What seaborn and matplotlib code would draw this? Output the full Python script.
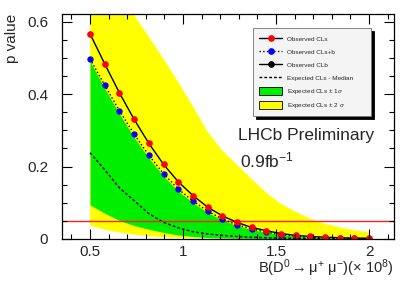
import numpy as np
import matplotlib
matplotlib.use("Agg")
import matplotlib.pyplot as plt
from matplotlib.lines import Line2D
from matplotlib.patches import Patch
from matplotlib.ticker import MultipleLocator, FuncFormatter
import seaborn as sns

# branching fraction scan points (x 10^-8)
br = [0.5, 0.579, 0.658, 0.737, 0.816, 0.895, 0.974, 1.053, 1.132, 1.211,
      1.289, 1.368, 1.447, 1.526, 1.605, 1.684, 1.763, 1.842, 1.921, 2.0]

# observed
cls_obs = [0.566, 0.483, 0.403, 0.330, 0.264, 0.206, 0.158, 0.120, 0.088, 0.064,
           0.046, 0.032, 0.023, 0.015, 0.010, 0.007, 0.005, 0.0035, 0.0025, 0.002]
clsb_obs = [0.497, 0.424, 0.354, 0.289, 0.231, 0.180, 0.138, 0.105, 0.077, 0.055,
            0.039, 0.028, 0.019, 0.012, 0.008, 0.005, 0.003, 0.002, 0.0015, 0.001]

# expected
cls_median = [0.238, 0.191, 0.141, 0.106, 0.070, 0.046, 0.031, 0.020, 0.014, 0.010,
              0.007, 0.005, 0.0035, 0.0025, 0.002, 0.0015, 0.001, 0.001, 0.0008, 0.0005]
band1_lo = [0.094, 0.071, 0.051, 0.037, 0.027, 0.018, 0.011, 0.007, 0.004, 0.003,
            0.002, 0.0015, 0.001, 0.0008, 0.0006, 0.0005, 0.0004, 0.0003, 0.0002, 0.0001]
band1_hi = [0.490, 0.415, 0.345, 0.280, 0.223, 0.173, 0.132, 0.100, 0.073, 0.052,
            0.037, 0.026, 0.018, 0.012, 0.008, 0.005, 0.003, 0.002, 0.0015, 0.001]
band2_lo = [0.037, 0.026, 0.018, 0.012, 0.008, 0.005, 0.003, 0.002, 0.001, 0.0008,
            0.0005, 0.0003, 0.0002, 0.0001, 0.0001, 0.0, 0.0, 0.0, 0.0, 0.0]
band2_hi = [0.79, 0.732, 0.676, 0.618, 0.558, 0.497, 0.433, 0.366, 0.296, 0.244,
            0.205, 0.166, 0.128, 0.097, 0.075, 0.056, 0.042, 0.032, 0.024, 0.019]

limit_cl = 0.05

sns.set_style("ticks")
plt.rcParams['font.family'] = ['Liberation Sans', 'DejaVu Sans']
plt.rcParams['mathtext.fontset'] = 'custom'
plt.rcParams['mathtext.rm'] = 'Liberation Sans'
plt.rcParams['mathtext.it'] = 'Liberation Sans:italic'

fig = plt.figure(figsize=(4.15, 2.81), dpi=100)
ax = fig.add_axes([62/415, 42/281, 332/415, 225/281])
ax.set_axisbelow(False)

ax.fill_between(br, band2_lo, band2_hi, color='#ffff00', lw=0)
ax.fill_between(br, band1_lo, band1_hi, color='#00ee00', lw=0)
sns.lineplot(x=br, y=cls_median, color='black', linestyle=(0, (2, 1.5)), lw=1.0, ax=ax)
ax.axhline(limit_cl, color='#ff2020', lw=1.0)
sns.lineplot(x=br, y=clsb_obs, color='black', linestyle=':', lw=1.0, marker='o',
             markersize=3.8, markerfacecolor='blue', markeredgecolor='blue', ax=ax)
sns.lineplot(x=br, y=cls_obs, color='black', lw=1.0, marker='o',
             markersize=4.0, markerfacecolor='red', markeredgecolor='red', ax=ax)

ax.set_xlim(0.349, 2.134)
ax.set_ylim(0, 0.621)
ax.xaxis.set_major_locator(MultipleLocator(0.5))
ax.xaxis.set_minor_locator(MultipleLocator(0.1))
ax.yaxis.set_major_locator(MultipleLocator(0.2))
ax.yaxis.set_minor_locator(MultipleLocator(0.05))
ax.xaxis.set_major_formatter(FuncFormatter(lambda v, p: f"{v:g}"))
ax.yaxis.set_major_formatter(FuncFormatter(lambda v, p: f"{v:g}"))
ax.tick_params(which='both', direction='in', top=True, right=True, width=0.8,
               color='black', labelsize=11)
ax.tick_params(which='major', length=7)
ax.tick_params(which='minor', length=3.5)
ax.tick_params(axis='y', pad=10)
ax.tick_params(axis='x', pad=4)
for s in ax.spines.values():
    s.set_linewidth(0.9)
    s.set_color('black')

ax.set_xlabel(r'B(D$^{0}$$\rightarrow$μ$^{+}$ μ$^{-}$)($\times$ 10$^{8}$)',
              fontsize=10.5, loc='right', labelpad=-1)
ax.set_ylabel('p value', fontsize=11, loc='top')
ax.yaxis.set_label_coords(-0.13, 1.0)

ax.text(0.53, 0.44, 'LHCb Preliminary', transform=ax.transAxes, fontsize=12.5, va='baseline')
ax.text(0.535, 0.32, r'0.9fb$^{-1}$', transform=ax.transAxes, fontsize=12.5, va='baseline')

handles = [
    Line2D([], [], color='black', lw=1.0, marker='o', markersize=3.8,
           markerfacecolor='red', markeredgecolor='red'),
    Line2D([], [], color='black', lw=1.0, ls=':', marker='o', markersize=3.8,
           markerfacecolor='blue', markeredgecolor='blue'),
    Line2D([], [], color='black', lw=1.0, marker='o', markersize=3.8,
           markerfacecolor='black', markeredgecolor='black'),
    Line2D([], [], color='black', lw=1.0, ls=(0, (2, 1.5))),
    Patch(facecolor='#00ee00', edgecolor='black', lw=0.6),
    Patch(facecolor='#ffff00', edgecolor='black', lw=0.6),
]
labels = ['Observed CLs', 'Observed CLs+b', 'Observed CLb', 'Expected CLs - Median',
          r'Expected CLs $\pm$ 1$\sigma$', r'Expected CLs $\pm$ 2 $\sigma$']
leg = ax.legend(handles, labels, loc='upper left', bbox_to_anchor=(0.566, 0.951, 0.374, 0.0),
                mode='expand', fontsize=4.6, handlelength=3.5, handleheight=1.6,
                labelspacing=0.75, borderpad=1.0, fancybox=False, framealpha=1,
                shadow={'color': 'black', 'alpha': 1, 'ox': 2, 'oy': -2})
leg.get_frame().set_edgecolor('0.45')
leg.get_frame().set_linewidth(0.6)
leg.get_frame().set_facecolor('#f4f4f4')

fig.savefig('out.png', dpi=100)
